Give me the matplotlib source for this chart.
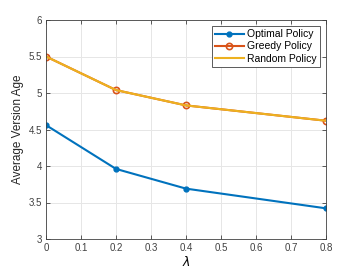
import matplotlib
matplotlib.use("Agg")
import matplotlib.pyplot as plt

plt.rcParams['font.family'] = ['Liberation Sans', 'DejaVu Sans']

lam = [0, 0.2, 0.4, 0.8]
optimal = [4.56, 3.96, 3.69, 3.42]
greedy = [5.50, 5.04, 4.83, 4.62]
random_pol = [5.50, 5.04, 4.83, 4.62]

fig = plt.figure(figsize=(3.6, 2.7), dpi=100)
ax = fig.add_axes([46/360, 1 - 239/270, 280/360, 219/270])

ax.plot(lam, optimal, color='#0072BD', marker='o', ms=3.5, lw=1.5, label='Optimal Policy')
ax.plot(lam, greedy, color='#D95319', marker='o', ms=4.5, mfc='none', mew=1.2, lw=1.5, label='Greedy Policy')
ax.plot(lam, random_pol, color='#EDB120', lw=1.5, label='Random Policy')

ax.set_xlim(0, 0.8)
ax.set_ylim(3, 6)
ax.set_xticks([0, 0.1, 0.2, 0.3, 0.4, 0.5, 0.6, 0.7, 0.8])
ax.set_xticklabels(['0', '0.1', '0.2', '0.3', '0.4', '0.5', '0.6', '0.7', '0.8'])
ax.set_yticks([3, 3.5, 4, 4.5, 5, 5.5, 6])
ax.set_yticklabels(['3', '3.5', '4', '4.5', '5', '5.5', '6'])
ax.grid(True, color='#e6e6e6', lw=0.7)
ax.set_axisbelow(True)
ax.tick_params(direction='in', length=3, width=0.6, colors='#404040', labelsize=7, top=True, right=True,
               labeltop=False, labelright=False, pad=3)
for s in ax.spines.values():
    s.set_color('#404040')
    s.set_linewidth(0.6)
ax.set_xlabel(r'$\lambda$', fontsize=9, labelpad=1)
ax.set_ylabel('Average Version Age', fontsize=8.5, color='#262626', labelpad=3)

leg = ax.legend(loc='upper right', fontsize=7.5, fancybox=False, framealpha=1, edgecolor='#404040',
                handlelength=2.8, borderpad=0.3, labelspacing=0.2, handletextpad=0.3, borderaxespad=0.6)
leg.get_frame().set_linewidth(0.6)

fig.savefig('out.png', dpi=100)
